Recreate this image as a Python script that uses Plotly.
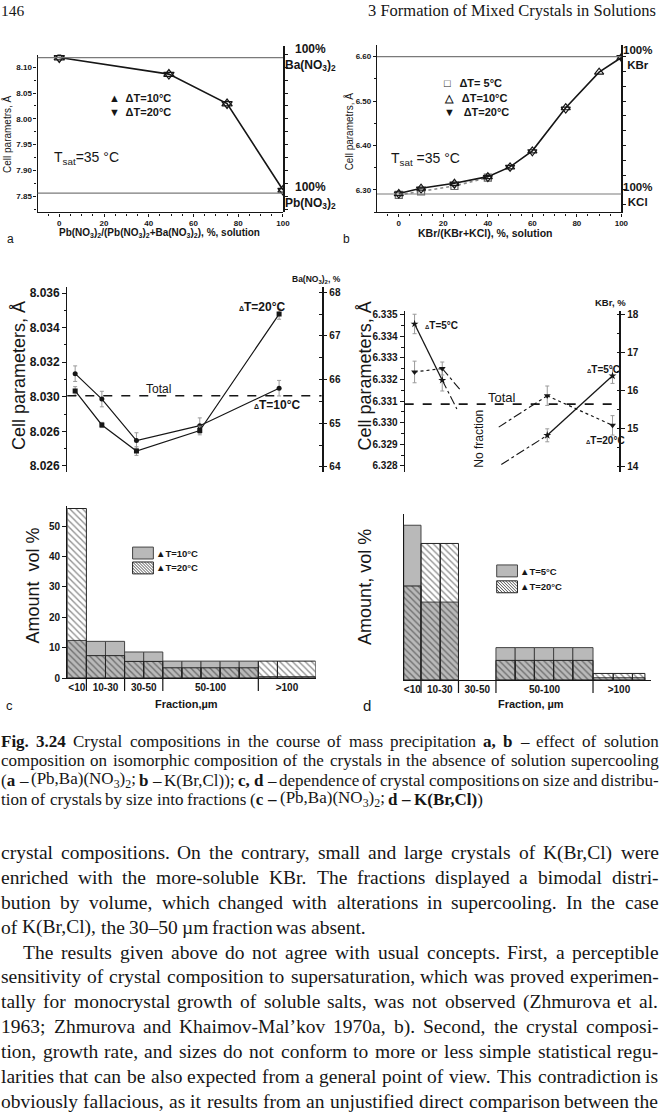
import re
import plotly.graph_objects as go

W, H = 664, 1120
SANS = "Liberation Sans, Arial, sans-serif"
SERIF = "Liberation Serif, Times New Roman, serif"
INK = "#161616"

# ---------------- data ----------------
# (a) (Pb,Ba)(NO3)2
a_x = [0, 49, 75, 100]
a_dT10 = [8.1187, 8.0866, 8.0296, 7.8623]
a_dT20 = [8.1180, 8.0858, 8.0290, 7.8612]
a_pure = [8.1187, 7.856]          # 100% Ba(NO3)2 , 100% Pb(NO3)2

# (b) K(Br,Cl)
b_x = [0, 10, 25, 40, 50, 60, 75, 90, 100]
b_dT10 = [6.292, 6.304, 6.315, 6.330, 6.352, 6.388, 6.485, 6.565, 6.598]
b_dT20 = [6.291, 6.302, 6.313, 6.328, 6.351, 6.386, 6.482, None, 6.598]
b_x5 = [0, 10, 25, 40]
b_dT5 = [6.289, 6.297, 6.309, 6.328]
b_pure = [6.600, 6.291]           # 100% KBr , 100% KCl

# (c, top) cell parameter vs fraction, (Pb,Ba)(NO3)2
c_pos = [0.31, 1.36, 2.72, 5.21, 8.33]
c_dT10 = [8.03134, 8.02987, 8.02747, 8.02833, 8.03050]
c_dT20 = [8.03034, 8.02837, 8.02686, 8.02805, 8.03479]
c_err10 = [0.00045, 0.00045, 0.00045, 0.00045, 0.00045]
c_err20 = [0.00025, 0.00015, 0.00025, 0.00025, 0.00030]
c_total = 8.03006
c_yticks = [8.026, 8.028, 8.030, 8.032, 8.034, 8.036]
c_yticktext = ["8.026", "8.026", "8.030", "8.032", "8.034", "8.036"]

# (d, top) cell parameter vs fraction, K(Br,Cl)
d_pos = [0.46, 1.75, 6.64, 9.68]
d_dT5 = [6.33457, 6.33197, 6.32942, 6.33217]
d_dT20 = [6.33235, 6.33251, 6.33125, 6.32988]
d_err5 = [0.00045, 0.00050, 0.00030, 0.00035]
d_err20 = [0.00050, 0.00030, 0.00045, 0.00045]
d_gap_pos_dT5 = [2.43, 4.50]
d_gap_dT5 = [6.33064, 6.32807]
d_gap_pos_dT20 = [2.58, 4.38]
d_gap_dT20 = [6.33153, 6.32980]
d_total = 6.33086

# (c, bottom) volume distribution
hc_left = [0, 1, 2, 3, 4, 5, 6, 7, 8, 9, 10, 11]
hc_right = [1, 2, 3, 4, 5, 6, 7, 8, 9, 10, 11, 13]
hc_dT10 = [12.4, 12.1, 12.1, 8.6, 8.6, 5.6, 5.6, 5.6, 5.6, 5.6, 0.5, 0.5]
hc_dT20 = [55.8, 7.4, 7.4, 5.5, 5.5, 3.4, 3.4, 3.4, 3.4, 3.4, 5.6, 5.6]
hc_group_edges = [0, 1, 3, 5, 10, 13]

# (d, bottom) volume distribution
hd_left = [0, 0.9, 1.9, 4.8, 5.8, 6.8, 7.8, 8.8, 9.85, 10.9, 11.9]
hd_right = [0.9, 1.9, 2.85, 5.8, 6.8, 7.8, 8.8, 9.85, 10.9, 11.9, 12.55]
hd_dT5 = [51.0, 25.7, 25.7, 10.7, 10.7, 10.7, 10.7, 10.7, 0.8, 0.8, 0.8]
hd_dT20 = [31.0, 45.0, 45.0, 6.5, 6.5, 6.5, 6.5, 6.5, 2.2, 2.2, 2.2]
hd_group_edges = [0, 0.9, 2.85, 4.8, 9.85, 12.55]

fraction_labels = ["<10", "10-30", "30-50", "50-100", ">100"]

caption_lines = [
    "<b>Fig. 3.24</b>  Crystal compositions in the course of mass precipitation <b>a, b</b> – effect of solution",
    "composition on isomorphic composition of the crystals in the absence of solution supercooling",
    "(<b>a</b> – (Pb,Ba)(NO<sub>3</sub>)<sub>2</sub>; <b>b</b> – K(Br,Cl)); <b>c, d</b> – dependence of crystal compositions on size and distribu-",
    "tion of crystals by size into fractions (<b>c –</b> (Pb,Ba)(NO<sub>3</sub>)<sub>2</sub>; <b>d – K(Br,Cl)</b>)",
]
body_lines = [
    "crystal compositions. On the contrary, small and large crystals of K(Br,Cl) were",
    "enriched with the more-soluble KBr. The fractions displayed a bimodal distri-",
    "bution by volume, which changed with alterations in supercooling. In the case",
    "of K(Br,Cl), the 30–50 µm fraction was absent.",
    "The results given above do not agree with usual concepts. First, a perceptible",
    "sensitivity of crystal composition to supersaturation, which was proved experimen-",
    "tally for monocrystal growth of soluble salts, was not observed (Zhmurova et al.",
    "1963; Zhmurova and Khaimov-Mal’kov 1970a, b). Second, the crystal composi-",
    "tion, growth rate, and sizes do not conform to more or less simple statistical regu-",
    "larities that can be also expected from a general point of view. This contradiction is",
    "obviously fallacious, as it results from an unjustified direct comparison between the",
]

# ---------------- helpers ----------------
def PX(x):
    return x / W


def PY(y):
    return 1 - y / H


def ann(text, x, y, size=10, xa="left", ya="middle", family=SANS, angle=0, color=INK):
    return dict(text=text, x=PX(x), y=PY(y), xref="paper", yref="paper",
                xanchor=xa, yanchor=ya, showarrow=False, textangle=angle,
                font=dict(family=family, size=size, color=color))


# Times (Liberation Serif) advance widths, 1/1000 em
REG = {' ': 250, '!': 333, '(': 333, ')': 333, ',': 250, '-': 333, '.': 250, '/': 278, ':': 278,
       ';': 278, '–': 500, '’': 333, 'µ': 500,
       'A': 722, 'B': 667, 'C': 667, 'D': 722, 'E': 611, 'F': 556, 'G': 722, 'H': 722, 'I': 333,
       'J': 389, 'K': 722, 'L': 611, 'M': 889, 'N': 722, 'O': 722, 'P': 556, 'Q': 722, 'R': 667,
       'S': 556, 'T': 611, 'U': 722, 'V': 722, 'W': 944, 'X': 722, 'Y': 722, 'Z': 611,
       'a': 444, 'b': 500, 'c': 444, 'd': 500, 'e': 444, 'f': 333, 'g': 500, 'h': 500, 'i': 278,
       'j': 278, 'k': 500, 'l': 278, 'm': 778, 'n': 500, 'o': 500, 'p': 500, 'q': 500, 'r': 333,
       's': 389, 't': 278, 'u': 500, 'v': 500, 'w': 722, 'x': 500, 'y': 500, 'z': 444}
BOLD = dict(REG)
BOLD.update({'C': 722, 'F': 611, 'K': 778, 'B': 667, 'a': 500, 'b': 556, 'd': 556, 'h': 556,
             'r': 444, 'n': 556, 'u': 556})


def parse_rich(line):
    out = []
    bold = sub = False
    for tok in re.split(r"(</?b>|</?sub>)", line):
        if tok == "<b>":
            bold = True
        elif tok == "</b>":
            bold = False
        elif tok == "<sub>":
            sub = True
        elif tok == "</sub>":
            sub = False
        else:
            for ch in tok:
                out.append((ch, bold, sub))
    return out


def render_word(chars):
    s = ""
    for ch, b, sb in chars:
        t = ch
        if sb:
            t = "<sub>" + t + "</sub>"
        if b:
            t = "<b>" + t + "</b>"
        s += t
    return s.replace("</b><b>", "").replace("</sub><sub>", "")


def word_width(chars, size):
    w = 0
    for ch, b, sb in chars:
        table = BOLD if b else REG
        w += table.get(ch, 500) * (0.7 if sb else 1.0)
    return w * size / 1000.0


def set_line(line, y, size, x0=0.0, x1=664.0, justify=True):
    chars = parse_rich(line)
    words, cur = [], []
    for c in chars:
        if c[0] == " ":
            if cur:
                words.append(cur)
                cur = []
        else:
            cur.append(c)
    if cur:
        words.append(cur)
    ws = [word_width(w, size) for w in words]
    if justify and len(words) > 1:
        gap = (x1 - x0 - sum(ws)) / (len(words) - 1)
    else:
        gap = 0.25 * size
    out = []
    x = x0
    for w, wd in zip(words, ws):
        out.append(ann(render_word(w), x - 1, y, size, family=SERIF))
        x += wd + gap
    return out


def hatch_path(x0, y0, x1, y1, step=3.0):
    segs = []
    c = (x0 - y1)
    while c < (x1 - y0):
        sx = max(x0, c + y0)
        ex = min(x1, c + y1)
        if ex > sx:
            segs.append("M%.5f,%.5f L%.5f,%.5f" % (PX(sx), PY(sx - c), PX(ex), PY(ex - c)))
        c += step
    return " ".join(segs)


def centers(lefts, rights):
    return [(l + r) / 2 for l, r in zip(lefts, rights)]


def widths(lefts, rights):
    return [r - l for l, r in zip(lefts, rights)]


tick_font = dict(family=SANS, size=8, color=INK, weight="bold")
base_axis = dict(showgrid=False, zeroline=False, showline=True, linecolor=INK,
                 linewidth=1.3, ticks="outside", ticklen=3, tickwidth=1,
                 tickcolor=INK, tickfont=tick_font)


def axis(**kw):
    d = dict(base_axis)
    d.update(kw)
    return d


fig = go.Figure()
GRAY = "#b9b9b9"
ERR = "#9a9a9a"

# ----- panel a -----
fig.add_trace(go.Scatter(x=a_x, y=a_dT10, mode="lines", line=dict(color=INK, width=1.6),
                         xaxis="x", yaxis="y", showlegend=False))
fig.add_trace(go.Scatter(x=a_x, y=a_dT10, mode="markers", xaxis="x", yaxis="y", showlegend=False,
                         marker=dict(symbol="triangle-up-open", size=9, color=INK, line=dict(width=1.3))))
fig.add_trace(go.Scatter(x=a_x, y=a_dT20, mode="markers", xaxis="x", yaxis="y", showlegend=False,
                         marker=dict(symbol="triangle-down-open", size=9, color=INK, line=dict(width=1.3))))
fig.add_trace(go.Scatter(x=[None], y=[None], xaxis="x", yaxis="y2", showlegend=False))

# ----- panel b -----
fig.add_trace(go.Scatter(x=b_x5, y=b_dT5, mode="lines", line=dict(color="#8a8a8a", width=1.6, dash="dot"),
                         xaxis="x2", yaxis="y3", showlegend=False))
fig.add_trace(go.Scatter(x=b_x, y=b_dT10, mode="lines", line=dict(color=INK, width=1.6),
                         xaxis="x2", yaxis="y3", showlegend=False))
fig.add_trace(go.Scatter(x=b_x5, y=b_dT5, mode="markers", xaxis="x2", yaxis="y3", showlegend=False,
                         marker=dict(symbol="square-open", size=7, color="#666", line=dict(width=1.2))))
fig.add_trace(go.Scatter(x=b_x, y=b_dT10, mode="markers", xaxis="x2", yaxis="y3", showlegend=False,
                         marker=dict(symbol="triangle-up-open", size=8, color=INK, line=dict(width=1.2))))
fig.add_trace(go.Scatter(x=b_x, y=b_dT20, mode="markers", xaxis="x2", yaxis="y3", showlegend=False,
                         marker=dict(symbol="triangle-down-open", size=8, color=INK, line=dict(width=1.2))))
fig.add_trace(go.Scatter(x=[None], y=[None], xaxis="x2", yaxis="y4", showlegend=False))

# ----- panel c (top) -----
fig.add_trace(go.Scatter(x=c_pos, y=c_dT10, mode="lines+markers", xaxis="x3", yaxis="y5", showlegend=False,
                         line=dict(color=INK, width=1.2), marker=dict(symbol="circle", size=5, color=INK),
                         error_y=dict(type="data", array=c_err10, color=ERR, thickness=1, width=2)))
fig.add_trace(go.Scatter(x=c_pos, y=c_dT20, mode="lines+markers", xaxis="x3", yaxis="y5", showlegend=False,
                         line=dict(color=INK, width=1.2), marker=dict(symbol="square", size=5, color=INK),
                         error_y=dict(type="data", array=c_err20, color=ERR, thickness=1, width=2)))
fig.add_trace(go.Scatter(x=[None], y=[None], xaxis="x3", yaxis="y6", showlegend=False))


# ----- panel d (top) -----
def split_pairs(xs, ys, pairs):
    ox, oy = [], []
    for i, j in pairs:
        ox += [xs[i], xs[j], None]
        oy += [ys[i], ys[j], None]
    return ox, oy


sx, sy = split_pairs(d_pos, d_dT5, [(0, 1), (2, 3)])
fig.add_trace(go.Scatter(x=sx, y=sy, mode="lines", line=dict(color=INK, width=1.3),
                         xaxis="x4", yaxis="y7", showlegend=False))
fig.add_trace(go.Scatter(x=[d_pos[1], d_gap_pos_dT5[0], None, d_gap_pos_dT5[1], d_pos[2]],
                         y=[d_dT5[1], d_gap_dT5[0], None, d_gap_dT5[1], d_dT5[2]],
                         mode="lines", line=dict(color=INK, width=1.1, dash="dashdot"),
                         xaxis="x4", yaxis="y7", showlegend=False))
sx, sy = split_pairs(d_pos, d_dT20, [(0, 1), (2, 3)])
fig.add_trace(go.Scatter(x=sx, y=sy, mode="lines", line=dict(color=INK, width=1.2, dash="dot"),
                         xaxis="x4", yaxis="y7", showlegend=False))
fig.add_trace(go.Scatter(x=[d_pos[1], d_gap_pos_dT20[0], None, d_gap_pos_dT20[1], d_pos[2]],
                         y=[d_dT20[1], d_gap_dT20[0], None, d_gap_dT20[1], d_dT20[2]],
                         mode="lines", line=dict(color=INK, width=1.1, dash="dashdot"),
                         xaxis="x4", yaxis="y7", showlegend=False))
fig.add_trace(go.Scatter(x=d_pos, y=d_dT5, mode="markers", xaxis="x4", yaxis="y7", showlegend=False,
                         marker=dict(symbol="star", size=6, color=INK),
                         error_y=dict(type="data", array=d_err5, color=ERR, thickness=1, width=2)))
fig.add_trace(go.Scatter(x=d_pos, y=d_dT20, mode="markers", xaxis="x4", yaxis="y7", showlegend=False,
                         marker=dict(symbol="triangle-down", size=6, color=INK),
                         error_y=dict(type="data", array=d_err20, color=ERR, thickness=1, width=2)))
fig.add_trace(go.Scatter(x=[None], y=[None], xaxis="x4", yaxis="y8", showlegend=False))

# ----- histograms -----
hatch_marker = dict(color="rgba(0,0,0,0)", line=dict(color="#222", width=1),
                    pattern=dict(shape="\\", fgcolor="#222", bgcolor="rgba(0,0,0,0)", size=4.5, solidity=0.3))
gray_marker = dict(color=GRAY, line=dict(color="#444", width=1))

fig.add_trace(go.Bar(x=centers(hc_left, hc_right), y=hc_dT10, width=widths(hc_left, hc_right),
                     marker=gray_marker, xaxis="x5", yaxis="y9", showlegend=False))
fig.add_trace(go.Bar(x=centers(hc_left, hc_right), y=hc_dT20, width=widths(hc_left, hc_right),
                     marker=hatch_marker, xaxis="x5", yaxis="y9", showlegend=False))
fig.add_trace(go.Bar(x=centers(hd_left, hd_right), y=hd_dT5, width=widths(hd_left, hd_right),
                     marker=gray_marker, xaxis="x6", yaxis="y10", showlegend=False))
fig.add_trace(go.Bar(x=centers(hd_left, hd_right), y=hd_dT20, width=widths(hd_left, hd_right),
                     marker=hatch_marker, xaxis="x6", yaxis="y10", showlegend=False))

hc_centers = [(hc_group_edges[i] + hc_group_edges[i + 1]) / 2 for i in range(5)]
hd_centers = [(hd_group_edges[i] + hd_group_edges[i + 1]) / 2 for i in range(5)]

bold10 = dict(family=SANS, size=10, color=INK, weight="bold")

# ---------------- axes ----------------
layout_axes = dict(
    xaxis=axis(domain=[PX(38), PX(286)], range=[-9.7, 100], dtick=20, tick0=0, anchor="y",
               minor=dict(dtick=5, ticks="outside", ticklen=2, tickcolor=INK)),
    yaxis=axis(domain=[PY(212), PY(53)], range=[7.8187, 8.1244], dtick=0.05, tick0=7.85,
               tickformat=".2f", anchor="x",
               minor=dict(dtick=0.025, ticks="outside", ticklen=2, tickcolor=INK)),
    yaxis2=axis(domain=[PY(212), PY(44)], range=[7.8187, 8.1417], anchor="x", side="right",
                showticklabels=False, dtick=0.025, tick0=7.85, linewidth=2.2),
    xaxis2=axis(domain=[PX(381), PX(628)], range=[-9.8, 100], dtick=20, tick0=0, anchor="y3",
                minor=dict(dtick=5, ticks="outside", ticklen=2, tickcolor=INK)),
    yaxis3=axis(domain=[PY(212), PY(43)], range=[6.2494, 6.6268], dtick=0.1, tick0=6.3,
                tickformat=".2f", anchor="x2",
                minor=dict(dtick=0.05, ticks="outside", ticklen=2, tickcolor=INK)),
    yaxis4=axis(overlaying="y3", side="right", anchor="x2", range=[6.2494, 6.6268],
                showticklabels=False, dtick=0.1 / 3, tick0=6.3, linewidth=2.2),
    xaxis3=dict(domain=[PX(68), PX(325)], range=[0, 10], visible=False, anchor="y5"),
    yaxis5=axis(domain=[PY(473), PY(287)], range=[8.02567, 8.03636], anchor="x3", ticklen=4,
                tickvals=c_yticks, ticktext=c_yticktext, tickfont=dict(family=SANS, size=12, color=INK, weight="bold"),
                minor=dict(dtick=0.001, tick0=8.026, ticks="outside", ticklen=2.5, tickcolor=INK)),
    yaxis6=axis(overlaying="y5", side="right", anchor="x3", range=[63.893, 68.12], dtick=1, tick0=64,
                ticklen=4, tickfont=bold10, linewidth=1.6,
                minor=dict(dtick=0.5, ticks="inside", ticklen=2.5, tickcolor=INK)),
    xaxis4=dict(domain=[PX(409), PX(626)], range=[0, 10], visible=False, anchor="y7"),
    yaxis7=axis(domain=[PY(473), PY(311)], range=[6.32774, 6.33518], anchor="x4", dtick=0.001,
                tick0=6.328, tickformat=".3f", ticklen=4, tickfont=bold10,
                minor=dict(dtick=0.0005, ticks="outside", ticklen=2.5, tickcolor=INK)),
    yaxis8=axis(overlaying="y7", side="right", anchor="x4", range=[13.87, 18.105], dtick=1, tick0=14,
                ticklen=4, tickfont=bold10, linewidth=1.6,
                minor=dict(dtick=0.5, ticks="inside", ticklen=2.5, tickcolor=INK)),
    xaxis5=axis(domain=[PX(68), PX(319)], range=[0, 13], anchor="y9", ticks="",
                tickvals=hc_centers, ticktext=fraction_labels, tickfont=bold10),
    yaxis9=axis(domain=[PY(681), PY(508)], range=[0, 56.5], dtick=10, anchor="x5", ticklen=4,
                tickfont=bold10),
    xaxis6=axis(domain=[PX(408), PX(658)], range=[0, 12.87], anchor="y10", ticks="",
                tickvals=hd_centers, ticktext=fraction_labels, tickfont=bold10),
    yaxis10=axis(domain=[PY(683), PY(516)], range=[0, 54.6], anchor="x6", ticks="",
                 showticklabels=False),
)

# ---------------- shapes ----------------
shapes = []
for v in a_pure:
    shapes.append(dict(type="line", xref="x domain", yref="y", x0=0, x1=1, y0=v, y1=v,
                       line=dict(color="#7a7a7a", width=1.2)))
for v in b_pure:
    shapes.append(dict(type="line", xref="x2 domain", yref="y3", x0=0, x1=1, y0=v, y1=v,
                       line=dict(color="#7a7a7a", width=1.2)))
shapes.append(dict(type="line", xref="x3 domain", yref="y5", x0=0, x1=1, y0=c_total, y1=c_total,
                   line=dict(color=INK, width=1.6, dash="dash")))
shapes.append(dict(type="line", xref="x4 domain", yref="y7", x0=0, x1=1, y0=d_total, y1=d_total,
                   line=dict(color=INK, width=1.6, dash="dash")))
for e in hc_group_edges[1:-1]:
    shapes.append(dict(type="line", xref="x5", yref="paper", x0=e, x1=e, y0=PY(681), y1=PY(694),
                       line=dict(color=INK, width=1.2)))
for e in hd_group_edges[1:-1]:
    shapes.append(dict(type="line", xref="x6", yref="paper", x0=e, x1=e, y0=PY(683), y1=PY(696),
                       line=dict(color=INK, width=1.2)))

# legend boxes for histograms
for (bx, by1, by2) in [(134, 549, 564), (502, 567, 583)]:
    shapes.append(dict(type="rect", xref="paper", yref="paper", x0=PX(bx), x1=PX(bx + 21),
                       y0=PY(by1 + 12), y1=PY(by1), fillcolor=GRAY, line=dict(color="#444", width=1)))
    shapes.append(dict(type="path", xref="paper", yref="paper", path=hatch_path(bx, by2, bx + 21, by2 + 12),
                       line=dict(color="#222", width=0.8)))
    shapes.append(dict(type="rect", xref="paper", yref="paper", x0=PX(bx), x1=PX(bx + 21),
                       y0=PY(by2 + 12), y1=PY(by2), line=dict(color="#222", width=1)))

# ---------------- annotations ----------------
A = []
# page header
A.append(ann("146", -1, 9, 15.5, family=SERIF))
A.append(ann("3 Formation of Mixed Crystals in Solutions", 665, 9, 16.5, xa="right", family=SERIF))

# panel a
A.append(ann("Cell parametrs, Å", 7, 133, 10, xa="center", angle=-90))
A.append(ann("<b>Pb(NO<sub>3</sub>)<sub>2</sub>/(Pb(NO<sub>3</sub>)<sub>2</sub>+Ba(NO<sub>3</sub>)<sub>2</sub>), %, solution</b>",
             161, 233, 10, xa="center"))
A.append(ann("a", 5, 239, 12))
A.append(ann("<b>▲  ΔT=10°C</b>", 108, 97, 11))
A.append(ann("<b>▼  ΔT=20°C</b>", 108, 111, 11))
A.append(ann("T<sub>sat</sub>=35 °C", 53, 157, 14))
A.append(ann("<b>100%<br>Ba(NO<sub>3</sub>)<sub>2</sub></b>", 286, 56, 12, ya="middle"))
A.append(ann("<b>100%<br>Pb(NO<sub>3</sub>)<sub>2</sub></b>", 286, 195, 12, ya="middle"))

# panel b
A.append(ann("Cell parametrs, Å", 353, 130, 10, xa="center", angle=-90))
A.append(ann("<b>KBr/(KBr+KCl), %, solution</b>", 490, 233, 10.5, xa="center"))
A.append(ann("b", 345, 239, 12))
A.append(ann("<b>□   ΔT= 5°C</b>", 447, 82, 11))
A.append(ann("<b>△   ΔT=10°C</b>", 447, 97, 11))
A.append(ann("<b>▼   ΔT=20°C</b>", 447, 111, 11))
A.append(ann("T<sub>sat</sub> =35 °C", 393, 158, 14))
A.append(ann("<b>100%<br>KBr</b>", 628, 56, 11.5))
A.append(ann("<b>100%<br>KCl</b>", 628, 194, 11.5))

# panel c (top)
A.append(ann("Cell parameters, Å", 20, 376, 18, xa="center", angle=-90))
A.append(ann("<b>Ba(NO<sub>3</sub>)<sub>2</sub>, %</b>", 320, 279, 8.5, xa="center"))
A.append(ann("Total", 160, 390, 12, xa="center"))
A.append(ann("<b><span style='font-size:7px'>Δ</span>T=20°C</b>", 240, 307, 12))
A.append(ann("<b><span style='font-size:7px'>Δ</span>T=10°C</b>", 255, 406, 12))

# panel d (top)
A.append(ann("Cell parameters, Å", 369, 377, 18, xa="center", angle=-90))
A.append(ann("<b>KBr, %</b>", 617, 303, 9.5, xa="center"))
A.append(ann("Total", 507, 398, 13, xa="center"))
A.append(ann("No fraction", 484, 440, 12, xa="center", angle=-90))
A.append(ann("<b><span style='font-size:6px'>Δ</span>T=5°C</b>", 428, 326, 10))
A.append(ann("<b><span style='font-size:6px'>Δ</span>T=5°C</b>", 591, 370, 10))
A.append(ann("<b><span style='font-size:6px'>Δ</span>T=20°C</b>", 590, 442, 10))

# histograms
A.append(ann("Amount  vol %", 33, 588, 18, xa="center", angle=-90))
A.append(ann("<b>Fraction,µm</b>", 188, 707, 11, xa="center"))
A.append(ann("c", 4, 709, 13))
A.append(ann("<b>▲T=10°C</b>", 156, 555, 9.5))
A.append(ann("<b>▲T=20°C</b>", 156, 570, 9.5))
A.append(ann("Amount, vol %", 369, 589, 18, xa="center", angle=-90))
A.append(ann("<b>Fraction, µm</b>", 537, 707, 11, xa="center"))
A.append(ann("d", 365, 709, 15))
A.append(ann("<b>▲T=5°C</b>", 524, 574, 9.5))
A.append(ann("<b>▲T=20°C</b>", 524, 589, 9.5))

# caption (justified)
for i, line in enumerate(caption_lines):
    A += set_line(line, 745 + i * 19.4, 17, justify=(i < len(caption_lines) - 1))

# body text (justified)
for i, line in enumerate(body_lines):
    A += set_line(line, 857 + i * 25.0, 19.5, x0=(22 if i == 4 else 0), justify=(i != 3))

fig.update_layout(
    width=W, height=H, margin=dict(l=0, r=0, t=0, b=0),
    paper_bgcolor="white", plot_bgcolor="rgba(0,0,0,0)",
    barmode="overlay", showlegend=False,
    shapes=shapes, annotations=A,
    **layout_axes,
)

fig.write_html("out.html", config={"displayModeBar": False},
               post_script="document.body.style.margin='0px';document.body.style.overflow='hidden';")
